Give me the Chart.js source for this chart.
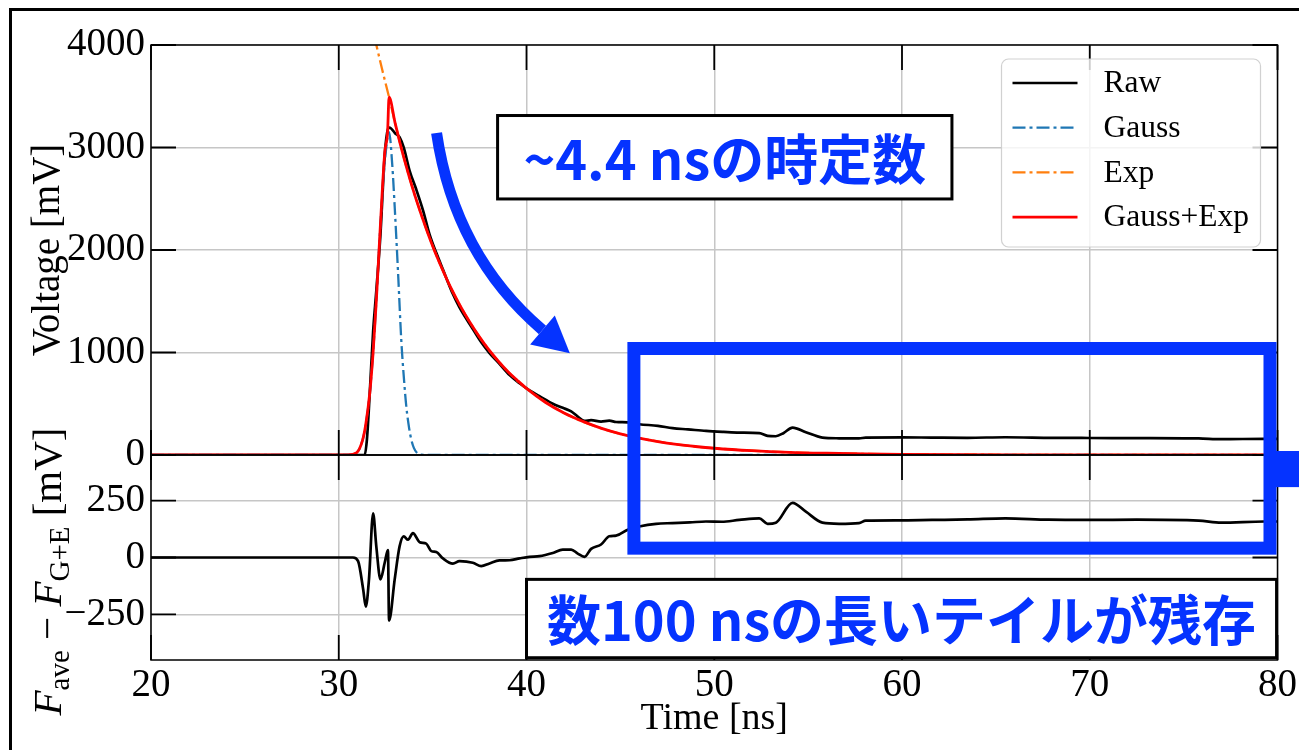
<!DOCTYPE html>
<html><head><meta charset="utf-8">
<script src="https://cdn.jsdelivr.net/npm/chart.js@4.4.1/dist/chart.umd.min.js"></script>
<style>
html,body{margin:0;padding:0;background:#fff;overflow:hidden;}
#wrap{position:relative;width:1299px;height:750px;overflow:hidden;}
#c{position:absolute;left:0;top:0;}
#frame{position:absolute;left:9px;top:8px;width:1400px;height:900px;border:3px solid #000;}
</style></head><body>
<div id="wrap"><div id="frame"></div><canvas id="c" width="1299" height="750"></canvas></div>
<script>
// ---------- data ----------
const xTicks = [20, 30, 40, 50, 60, 70, 80];
const vTicks = [0, 1000, 2000, 3000, 4000];
const rTicks = [-250, 0, 250];

const rawT = [20, 31.38, 31.5, 31.65, 31.83, 32.0, 32.22, 32.45, 32.62, 32.7,
  33.0, 33.24, 33.46, 33.78, 34.13, 34.5, 34.84, 35.2, 35.55, 36.08,
  36.43, 37.14, 37.59, 38.03, 38.56, 39.1, 39.63, 40.16, 40.69, 41.4,
  41.93, 42.38, 42.73, 43.09, 43.44, 43.97, 44.41, 44.77, 45.39, 46.0,
  47.0, 47.78, 48.6, 49.56, 50.5, 51.33, 52.4, 52.84, 53.28, 53.7,
  54.17, 54.88, 55.76, 56.65, 57.71, 58.07, 60.0, 61.6, 63.5, 65.5,
  68.0, 69.95, 72.5, 75.8, 77.0, 79.3, 80];
const rawV = [0, 0, 150, 600, 1200, 1600, 2150, 2930, 3180, 3195,
  3140, 3100, 3000, 2770, 2590, 2380, 2150, 1970, 1810, 1570,
  1440, 1230, 1100, 995, 890, 780, 700, 630, 575, 500,
  460, 425, 375, 332, 340, 326, 335, 322, 318, 300,
  285, 262, 250, 235, 225, 218, 214, 187, 183, 215,
  268, 222, 170, 163, 162, 170, 172, 170, 168, 173,
  167, 166, 165, 162, 154, 158, 158];

const gaussT = [20, 30.5, 30.94, 31.27, 31.44, 31.65, 31.83, 32.0, 32.22, 32.45,
  32.68, 32.85, 32.98, 33.16, 33.33, 33.47, 33.6, 33.75, 33.87, 34.0,
  34.17, 34.4, 35, 80];
const gaussV = [0, 0, 20, 146, 300, 600, 1000, 1500, 2250, 2850,
  3150, 2830, 2420, 1775, 1122, 750, 470, 260, 146, 70,
  20, 3, 0, 0];

const expT = [31.9, 32.3, 32.68, 33.0, 33.5, 34.0, 35.0, 36.0, 37.0, 38.0,
  39.0, 40.0, 42.0, 44.0, 46.0, 48.0, 50.0, 54.0, 58.0, 62.0, 70.0, 80.0];
const expV = [4080, 3770, 3490, 3240, 2880, 2565, 2040, 1620, 1290, 1025,
  815, 650, 410, 260, 165, 104, 66, 26, 11, 4.5, 0.7, 0];

const fitT = [20, 30.5, 30.94, 31.27, 31.44, 31.65, 31.83, 32.0, 32.22, 32.45,
  32.6, 32.68, 33.0, 33.24, 33.5, 34.0, 34.5, 35.0, 35.5, 36.0,
  36.5, 37.0, 37.5, 38.0, 38.5, 39.0, 39.5, 40.0, 41.0, 42.0,
  43.0, 44.0, 45.0, 46.0, 47.0, 48.0, 49.0, 50.0, 52.0, 54.0,
  56.0, 58.0, 60.0, 63.0, 66.0, 70.0, 75.0, 80.0];
const fitV = [0, 0, 20, 146, 300, 600, 1000, 1500, 2250, 2950,
  3150, 3490, 3240, 3060, 2880, 2565, 2290, 2040, 1820, 1620,
  1445, 1290, 1150, 1025, 915, 815, 730, 650, 515, 410,
  328, 260, 207, 165, 131, 104, 83, 66, 42, 26,
  17, 11, 7, 3.5, 1.8, 0.7, 0.2, 0];

const resT = [20, 30.76, 31.03, 31.3, 31.44, 31.61, 31.83, 32.0, 32.22, 32.45,
  32.62, 32.68, 32.98, 33.24, 33.46, 33.69, 33.95, 34.31, 34.66, 34.93,
  35.2, 35.55, 36.08, 36.43, 37.14, 37.59, 38.03, 38.56, 39.1, 39.63,
  40.16, 40.69, 41.4, 41.93, 42.38, 42.73, 43.09, 43.44, 43.97, 44.41,
  44.77, 45.39, 46.0, 46.9, 47.78, 48.7, 49.56, 50.4, 51.33, 52.4,
  52.84, 53.28, 54.17, 54.88, 55.76, 56.65, 57.71, 58.07, 59.8, 61.6,
  63.5, 65.5, 67.8, 69.95, 72.5, 75.8, 77.0, 79.3, 80];
const resR = [0, 0, -16, -139, -216, -96, 194, 49, -96, -22,
  32, -277, -96, 49, 93, 78, 107, 67, 61, 28,
  24, -4, -27, -16, -23, -38, -26, -13, -12, -4,
  3, 6, 20, 35, 35, 17, 3, 38, 57, 93,
  96, 122, 136, 148, 151, 154, 158, 157, 165, 172,
  148, 153, 240, 201, 153, 148, 151, 162, 163, 165,
  167, 172, 166, 165, 166, 162, 153, 158, 158];

const seriesNames = ['Raw', 'Gauss', 'Exp', 'Gauss+Exp'];
const tauText = '~4.4 nsの時定数';
const tailText = '数100 nsの長いテイルが残存';

// annotation anchors in data units (time [ns], voltage [mV], residual [mV])
const arrowT = [35.21, 36.17, 40.85];
const arrowV = [3141, 1951, 1220];
const tauBoxT = [38.46, 62.66];
const tauBoxV = [3312, 2498];
const tailRectT = [45.72, 79.6];
const tailRectTopV = 1039;
const tailRectBotR = 41;
const tabTopV = 39;
const tabBotR = 309;
const tailBoxT = [40.0, 79.95];
const tailBoxR = [-96, -440];

// ---------- helpers ----------
const SERIF = '"Liberation Serif", "Times New Roman", serif';
const BLUE = '#0533ff';
const pts = (t, v) => t.map((x, i) => ({x: x, y: v[i]}));
const DASHDOT = [13, 4, 3, 4];

const framePlugin = {
  id: 'frame',
  afterDatasetsDraw(chart) {
    const ctx = chart.ctx, xs = chart.scales.x;
    const L = chart.chartArea.left, R = chart.chartArea.right;
    const panels = [[chart.scales.yV, vTicks], [chart.scales.yR, rTicks]];
    ctx.save();
    ctx.strokeStyle = '#000';
    panels.forEach(([ys, tk]) => {
      const T = ys.top, B = ys.bottom, tl = 25;
      ctx.lineWidth = 1.8;
      ctx.beginPath();
      xTicks.forEach(v => {
        const px = xs.getPixelForValue(v);
        ctx.moveTo(px, T); ctx.lineTo(px, T + tl);
        ctx.moveTo(px, B); ctx.lineTo(px, B - tl);
      });
      tk.forEach(v => {
        const py = ys.getPixelForValue(v);
        ctx.moveTo(L, py); ctx.lineTo(L + tl, py);
        ctx.moveTo(R, py); ctx.lineTo(R - tl, py);
      });
      ctx.stroke();
      ctx.lineWidth = 1.5;
      ctx.strokeRect(L, T, R - L, B - T);
    });
    ctx.restore();
  },
  afterDraw(chart) {
    const ctx = chart.ctx, xs = chart.scales.x, yV = chart.scales.yV, yR = chart.scales.yR;
    const X = t => xs.getPixelForValue(t);
    ctx.save();

    // legend
    const lw = 259, lh = 188;
    const lx = chart.chartArea.right - 17 - lw, ly = chart.chartArea.top + 14;
    ctx.beginPath();
    ctx.roundRect(lx, ly, lw, lh, 7);
    ctx.fillStyle = 'rgba(255,255,255,0.8)';
    ctx.fill();
    ctx.strokeStyle = 'rgba(204,204,204,0.9)';
    ctx.lineWidth = 1.2;
    ctx.stroke();
    const ds = chart.data.datasets;
    const legOrder = [0, 1, 2, 3];
    ctx.font = '31.5px ' + SERIF;
    ctx.textBaseline = 'middle';
    ctx.textAlign = 'left';
    legOrder.forEach((di, i) => {
      const d = ds[di];
      const cy = ly + 24 + i * 44.7;
      ctx.beginPath();
      ctx.strokeStyle = d.borderColor;
      ctx.lineWidth = d.borderWidth;
      ctx.setLineDash(d.borderDash || []);
      ctx.moveTo(lx + 11, cy); ctx.lineTo(lx + 76, cy);
      ctx.stroke();
      ctx.setLineDash([]);
      ctx.fillStyle = '#000';
      ctx.fillText(d.label, lx + 102, cy + 1);
    });

    // bottom y-axis label: F_ave - F_G+E [mV]
    ctx.save();
    ctx.translate(61, (yR.top + yR.bottom) / 2 + 14);
    ctx.rotate(-Math.PI / 2);
    ctx.fillStyle = '#000';
    ctx.textBaseline = 'alphabetic';
    const parts = [
      {t: 'F', f: 'italic 41px ' + SERIF, dy: 0},
      {t: 'ave', f: '29px ' + SERIF, dy: 8},
      {t: ' \u2212 ', f: '41px ' + SERIF, dy: 0},
      {t: 'F', f: 'italic 41px ' + SERIF, dy: 0},
      {t: 'G+E', f: '29px ' + SERIF, dy: 8},
      {t: ' [mV]', f: '41px ' + SERIF, dy: 0}
    ];
    let tot = 0;
    parts.forEach(p => { ctx.font = p.f; p.w = ctx.measureText(p.t).width; tot += p.w; });
    let cx = -tot / 2;
    parts.forEach(p => { ctx.font = p.f; ctx.fillText(p.t, cx, p.dy); cx += p.w; });
    ctx.restore();

    // text boxes
    const box = (x0, y0, x1, y1, txt) => {
      ctx.fillStyle = '#fff';
      ctx.fillRect(x0, y0, x1 - x0, y1 - y0);
      ctx.strokeStyle = '#000';
      ctx.lineWidth = 3;
      ctx.strokeRect(x0, y0, x1 - x0, y1 - y0);
      ctx.fillStyle = BLUE;
      ctx.font = '700 54px "Noto Sans CJK JP", sans-serif';
      ctx.textAlign = 'center';
      ctx.textBaseline = 'middle';
      ctx.fillText(txt, (x0 + x1) / 2, (y0 + y1) / 2 + 2);
    };
    box(X(tauBoxT[0]), yV.getPixelForValue(tauBoxV[0]), X(tauBoxT[1]), yV.getPixelForValue(tauBoxV[1]), tauText);

    // blue rectangle with tab
    const rx0 = X(tailRectT[0]), rx1 = X(tailRectT[1]);
    const ry0 = yV.getPixelForValue(tailRectTopV), ry1 = yR.getPixelForValue(tailRectBotR);
    ctx.strokeStyle = BLUE;
    ctx.lineWidth = 13;
    ctx.strokeRect(rx0, ry0, rx1 - rx0, ry1 - ry0);
    ctx.fillStyle = BLUE;
    const ty0 = yV.getPixelForValue(tabTopV), ty1 = yR.getPixelForValue(tabBotR);
    ctx.fillRect(rx1, ty0, chart.width - rx1, ty1 - ty0);

    box(X(tailBoxT[0]), yR.getPixelForValue(tailBoxR[0]), X(tailBoxT[1]), yR.getPixelForValue(tailBoxR[1]), tailText);

    // curved arrow
    const p0 = [X(arrowT[0]), yV.getPixelForValue(arrowV[0])];
    const pc = [X(arrowT[1]), yV.getPixelForValue(arrowV[1])];
    const p2 = [X(arrowT[2]), yV.getPixelForValue(arrowV[2])];
    ctx.strokeStyle = BLUE;
    ctx.lineWidth = 11;
    ctx.beginPath();
    ctx.moveTo(p0[0], p0[1]);
    ctx.quadraticCurveTo(pc[0], pc[1], p2[0], p2[1]);
    ctx.stroke();
    const dx = p2[0] - pc[0], dy = p2[1] - pc[1], dl = Math.hypot(dx, dy);
    const ux = dx / dl, uy = dy / dl, nx = -uy, ny = ux;
    ctx.beginPath();
    ctx.moveTo(p2[0] + ux * 36, p2[1] + uy * 36);
    ctx.lineTo(p2[0] + nx * 19, p2[1] + ny * 19);
    ctx.lineTo(p2[0] - nx * 19, p2[1] - ny * 19);
    ctx.closePath();
    ctx.fill();

    ctx.restore();
  }
};

const gridColor = '#c6c6c6';
const tickFont = {family: SERIF, size: 39};
const titleFont = {family: SERIF, size: 39};

new Chart(document.getElementById('c'), {
  type: 'line',
  data: {
    datasets: [
      {label: seriesNames[0], data: pts(rawT, rawV), yAxisID: 'yV', borderColor: '#000', borderWidth: 2.7, order: 3, cubicInterpolationMode: 'monotone'},
      {label: seriesNames[1], data: pts(gaussT, gaussV), yAxisID: 'yV', borderColor: '#1f77b4', borderWidth: 2.3, borderDash: DASHDOT, order: 2, cubicInterpolationMode: 'monotone'},
      {label: seriesNames[2], data: pts(expT, expV), yAxisID: 'yV', borderColor: '#ff7f0e', borderWidth: 2.3, borderDash: DASHDOT, order: 1, cubicInterpolationMode: 'monotone'},
      {label: seriesNames[3], data: pts(fitT, fitV), yAxisID: 'yV', borderColor: '#ff0000', borderWidth: 2.8, order: 0, cubicInterpolationMode: 'monotone'},
      {label: 'residual', data: pts(resT, resR), yAxisID: 'yR', borderColor: '#000', borderWidth: 2.7, order: 4, cubicInterpolationMode: 'monotone'}
    ]
  },
  options: {
    responsive: false,
    animation: false,
    events: [],
    elements: {point: {radius: 0}, line: {fill: false}},
    layout: {padding: {left: 10, right: 20, top: 45, bottom: 0}},
    plugins: {legend: {display: false}, tooltip: {enabled: false}},
    scales: {
      x: {
        type: 'linear', min: 20, max: 80,
        afterBuildTicks: s => { s.ticks = xTicks.map(v => ({value: v})); },
        afterFit: s => { s.height = 90; },
        ticks: {font: tickFont, color: '#000', padding: 2, maxRotation: 0, autoSkip: false, callback: v => String(v)},
        grid: {color: gridColor, lineWidth: 1.5, drawTicks: false},
        border: {display: false},
        title: {display: true, text: 'Time [ns]', font: {family: SERIF, size: 38}, color: '#000', padding: {top: 0, bottom: 8}}
      },
      yR: {
        type: 'linear', position: 'left', stack: 'panels', stackWeight: 1,
        min: -450, max: 450,
        afterBuildTicks: s => { s.ticks = rTicks.map(v => ({value: v})); },
        afterFit: s => { s.width = 141; },
        ticks: {font: tickFont, color: '#000', padding: 6, autoSkip: false, callback: v => v < 0 ? '\u2212' + Math.abs(v) : String(v)},
        grid: {color: gridColor, lineWidth: 1.5, drawTicks: false},
        border: {display: false}
      },
      yV: {
        type: 'linear', position: 'left', stack: 'panels', stackWeight: 2,
        min: 0, max: 4000,
        afterBuildTicks: s => { s.ticks = vTicks.map(v => ({value: v})); },
        afterFit: s => { s.width = 141; },
        ticks: {font: tickFont, color: '#000', padding: 6, autoSkip: false, callback: v => String(v)},
        grid: {color: gridColor, lineWidth: 1.5, drawTicks: false},
        border: {display: false},
        title: {display: true, text: 'Voltage [mV]', font: titleFont, color: '#000', padding: {top: 15, bottom: 0}}
      }
    }
  },
  plugins: [framePlugin]
});
</script>
</body></html>
